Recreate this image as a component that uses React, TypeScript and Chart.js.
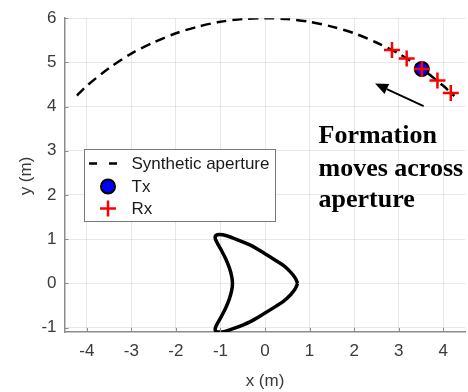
import React, { useEffect, useRef } from "react";
import { Chart, registerables } from "chart.js";

Chart.register(...registerables);

// Synthetic aperture path (m)
const apertureX = [-4.22, -4.0, -3.5, -3.0, -2.5, -2.0, -1.5, -1.0, -0.5, 0, 0.5, 1.0, 1.5, 2.0, 2.5, 3.0, 3.5, 4.0, 4.25];
const apertureY = [4.25, 4.47, 4.87, 5.2, 5.45, 5.66, 5.81, 5.92, 5.98, 6.0, 5.98, 5.92, 5.81, 5.66, 5.45, 5.2, 4.87, 4.47, 4.24];

// Transmitter position (m)
const txX = [3.52];
const txY = [4.85];

// Receiver positions (m)
const rxX = [2.85, 3.18, 3.52, 3.87, 4.17];
const rxY = [5.28, 5.09, 4.85, 4.59, 4.31];

// Target outline (m), closed contour
const targetX = [0.73, 0.68, 0.58, 0.42, 0.24, 0.0, -0.34, -0.7, -0.95, -1.07, -1.12, -1.08, -0.98, -0.88, -0.8, -0.75, -0.73, -0.75, -0.8, -0.88, -0.98, -1.08, -1.12, -1.07, -0.95, -0.7, -0.34, 0.0, 0.24, 0.42, 0.58, 0.68, 0.73];
const targetY = [0, 0.12, 0.25, 0.4, 0.52, 0.67, 0.87, 1.02, 1.1, 1.1, 1.04, 0.93, 0.75, 0.55, 0.35, 0.17, 0, -0.17, -0.35, -0.55, -0.75, -0.93, -1.04, -1.1, -1.1, -1.02, -0.87, -0.67, -0.52, -0.4, -0.25, -0.12, 0];

// Axis ticks
const xTicks = [-4, -3, -2, -1, 0, 1, 2, 3, 4];
const yTicks = [-1, 0, 1, 2, 3, 4, 5, 6];

// Annotation
const noteLines = ["Formation", "moves across", "aperture"];
const arrowTail = [3.56, 4.01];
const arrowHead = [2.47, 4.52];

const legendLabels = ["Synthetic aperture", "Tx", "Rx"];

const SANS = "'Liberation Sans', Arial, Helvetica, sans-serif";
const SERIF = "'Liberation Serif', 'Times New Roman', serif";
const AXIS_COLOR = "#8c8c8c";
const TEXT_COLOR = "#3a3a3a";

const zip = (xs: number[], ys: number[]) => xs.map((x, i) => ({ x, y: ys[i] }));

const extrasPlugin = {
  id: "extras",
  afterDraw(chart: any) {
    const { ctx, chartArea, scales } = chart;
    const xs = scales.x;
    const ys = scales.y;
    ctx.save();

    // inward tick marks
    ctx.strokeStyle = AXIS_COLOR;
    ctx.lineWidth = 1;
    ctx.beginPath();
    xTicks.forEach((v) => {
      const px = Math.round(xs.getPixelForValue(v)) + 0.5;
      ctx.moveTo(px, chartArea.bottom);
      ctx.lineTo(px, chartArea.bottom - 4);
    });
    yTicks.forEach((v) => {
      const py = Math.round(ys.getPixelForValue(v)) + 0.5;
      ctx.moveTo(chartArea.left, py);
      ctx.lineTo(chartArea.left + 4, py);
    });
    ctx.stroke();

    // axis titles
    ctx.fillStyle = TEXT_COLOR;
    ctx.font = `17px ${SANS}`;
    ctx.textAlign = "center";
    ctx.textBaseline = "middle";
    ctx.fillText("x (m)", (chartArea.left + chartArea.right) / 2, 381);
    ctx.save();
    ctx.translate(26, 176);
    ctx.rotate(-Math.PI / 2);
    ctx.fillText("y (m)", 0, 0);
    ctx.restore();

    // legend box
    const lx = 84.5, ly = 149.5, lw = 191, lh = 72;
    ctx.fillStyle = "#ffffff";
    ctx.fillRect(lx, ly, lw, lh);
    ctx.strokeStyle = "#7a7a7a";
    ctx.lineWidth = 1;
    ctx.strokeRect(lx, ly, lw, lh);

    const rows = [163.5, 186.5, 208.5];
    // dashed sample
    ctx.strokeStyle = "#000";
    ctx.lineWidth = 2.5;
    ctx.setLineDash([8, 12]);
    ctx.beginPath();
    ctx.moveTo(89, rows[0]);
    ctx.lineTo(117, rows[0]);
    ctx.stroke();
    ctx.setLineDash([]);
    // circle sample
    ctx.beginPath();
    ctx.arc(108, rows[1], 7, 0, Math.PI * 2);
    ctx.fillStyle = "#0000ff";
    ctx.fill();
    ctx.lineWidth = 2;
    ctx.strokeStyle = "#000";
    ctx.stroke();
    // cross sample
    ctx.strokeStyle = "#ff0000";
    ctx.lineWidth = 2.5;
    ctx.beginPath();
    ctx.moveTo(100, rows[2]);
    ctx.lineTo(116, rows[2]);
    ctx.moveTo(108, rows[2] - 8);
    ctx.lineTo(108, rows[2] + 8);
    ctx.stroke();

    ctx.fillStyle = "#1a1a1a";
    ctx.font = `17px ${SANS}`;
    ctx.textAlign = "left";
    ctx.textBaseline = "middle";
    legendLabels.forEach((t, i) => ctx.fillText(t, 131.5, rows[i] + 1));

    // arrow
    const tx = xs.getPixelForValue(arrowTail[0]);
    const ty = ys.getPixelForValue(arrowTail[1]);
    const hx = xs.getPixelForValue(arrowHead[0]);
    const hy = ys.getPixelForValue(arrowHead[1]);
    const ang = Math.atan2(hy - ty, hx - tx);
    const headLen = 13, headW = 5.5;
    const bx = hx - headLen * Math.cos(ang);
    const by = hy - headLen * Math.sin(ang);
    ctx.strokeStyle = "#000";
    ctx.lineWidth = 2;
    ctx.beginPath();
    ctx.moveTo(tx, ty);
    ctx.lineTo(bx, by);
    ctx.stroke();
    ctx.fillStyle = "#000";
    ctx.beginPath();
    ctx.moveTo(hx, hy);
    ctx.lineTo(bx + headW * Math.sin(ang), by - headW * Math.cos(ang));
    ctx.lineTo(bx - headW * Math.sin(ang), by + headW * Math.cos(ang));
    ctx.closePath();
    ctx.fill();

    // annotation text
    ctx.fillStyle = "#000";
    ctx.font = `bold 26px ${SERIF}`;
    ctx.textAlign = "left";
    ctx.textBaseline = "alphabetic";
    const baselines = [142.5, 175.5, 207];
    noteLines.forEach((t, i) => ctx.fillText(t, 318.5, baselines[i]));

    ctx.restore();
  },
};

export default function App() {
  const canvasRef = useRef<HTMLCanvasElement | null>(null);

  useEffect(() => {
    const canvas = canvasRef.current;
    if (!canvas) return;
    const chart = new Chart(canvas, {
      type: "scatter",
      data: {
        datasets: [
          {
            label: "Rx",
            data: zip(rxX, rxY),
            pointStyle: "cross",
            pointRadius: 8,
            pointBorderWidth: 2.5,
            borderColor: "#ff0000",
            backgroundColor: "#ff0000",
            order: 0,
          },
          {
            label: "Tx",
            data: zip(txX, txY),
            pointStyle: "circle",
            pointRadius: 7,
            pointBorderWidth: 2,
            borderColor: "#000000",
            backgroundColor: "#0000ff",
            order: 1,
          },
          {
            label: "Synthetic aperture",
            data: zip(apertureX, apertureY),
            showLine: true,
            borderColor: "#000000",
            borderWidth: 2.5,
            borderDash: [10, 6],
            pointRadius: 0,
            tension: 0.3,
            order: 2,
          },
          {
            label: "Target",
            data: zip(targetX, targetY),
            showLine: true,
            borderColor: "#000000",
            borderWidth: 3.5,
            pointRadius: 0,
            tension: 0.3,
            order: 3,
          },
        ],
      },
      options: {
        responsive: false,
        animation: false,
        devicePixelRatio: 1,
        layout: { autoPadding: false, padding: { top: 14, right: 2.5, left: 0, bottom: 0 } },
        plugins: {
          legend: { display: false },
          tooltip: { enabled: false },
        },
        scales: {
          x: {
            type: "linear",
            min: -4.5,
            max: 4.5,
            afterBuildTicks: (s: any) => {
              s.ticks = xTicks.map((v) => ({ value: v }));
            },
            afterFit: (s: any) => {
              s.height = 60;
            },
            grid: { color: "rgba(0,0,0,0.09)", drawTicks: false },
            border: { display: true, color: AXIS_COLOR, width: 1.5 },
            ticks: {
              padding: 9,
              color: TEXT_COLOR,
              font: { family: SANS, size: 17 },
              callback: (v: any) => String(v),
            },
          },
          y: {
            type: "linear",
            min: -1.1,
            max: 6,
            afterBuildTicks: (s: any) => {
              s.ticks = yTicks.map((v) => ({ value: v }));
            },
            afterFit: (s: any) => {
              s.width = 64.5;
            },
            grid: { color: "rgba(0,0,0,0.09)", drawTicks: false },
            border: { display: true, color: AXIS_COLOR, width: 1.5 },
            ticks: {
              padding: 8,
              color: TEXT_COLOR,
              font: { family: SANS, size: 17 },
              callback: (v: any) => String(v),
            },
          },
        },
      },
      plugins: [extrasPlugin],
    });
    return () => chart.destroy();
  }, []);

  return (
    <div style={{ position: "absolute", left: 0, top: 0, width: 468, height: 392, background: "#fff" }}>
      <canvas ref={canvasRef} width={468} height={392} style={{ display: "block" }} />
    </div>
  );
}
